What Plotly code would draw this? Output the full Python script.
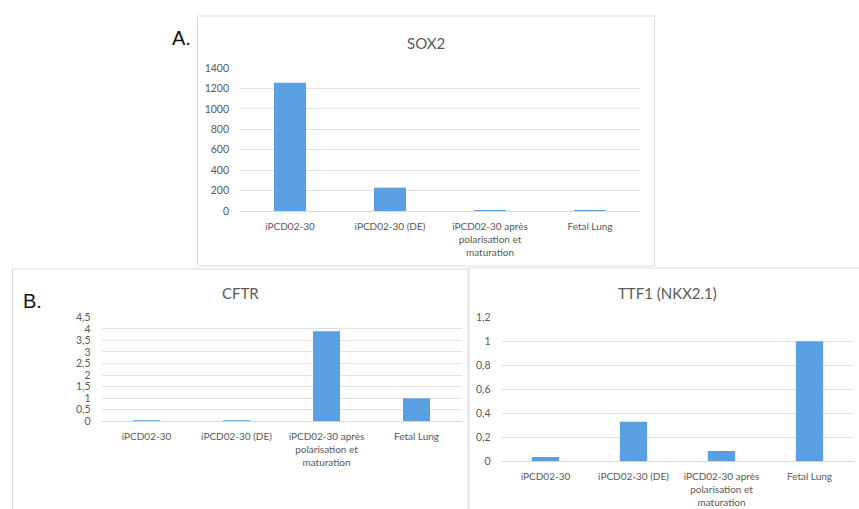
import plotly.graph_objects as go

W, H = 859, 509

categories = ["iPCD02-30", "iPCD02-30 (DE)", "iPCD02-30 après<br>polarisation et<br>maturation", "Fetal Lung"]

sox2_values = [1255, 228, 1.5, 1.0]
cftr_values = [0.012, 0.01, 3.9, 1.0]
ttf1_values = [0.035, 0.33, 0.085, 1.0]

sox2_ticks = [0, 200, 400, 600, 800, 1000, 1200, 1400]
sox2_ticktext = ["0", "200", "400", "600", "800", "1000", "1200", "1400"]
cftr_ticks = [0, 0.5, 1, 1.5, 2, 2.5, 3, 3.5, 4, 4.5]
cftr_ticktext = ["0", "0,5", "1", "1,5", "2", "2,5", "3", "3,5", "4", "4,5"]
ttf1_ticks = [0, 0.2, 0.4, 0.6, 0.8, 1.0, 1.2]
ttf1_ticktext = ["0", "0,2", "0,4", "0,6", "0,8", "1", "1,2"]

BAR = "#5b9fe3"
GRID = "#e3e3e3"
TXT = "#595959"
FONT = "Lato"


def px_x(p):
    return p / W


def px_y(p):
    return 1 - p / H


fig = go.Figure()

panels = [
    (sox2_values, (240, 640), (211, 68), 1400, sox2_ticks, sox2_ticktext, 0.32, 10.5),
    (cftr_values, (101.5, 461.5), (421.3, 317.3), 4.5, cftr_ticks, cftr_ticktext, 0.30, 10.5),
    (ttf1_values, (501.5, 853.5), (461.3, 317.3), 1.2, ttf1_ticks, ttf1_ticktext, 0.31, 10.5),
]

for i, (vals, (xl, xr), (y0, y1), top, tv, tt, bw, yfs) in enumerate(panels):
    sfx = "" if i == 0 else str(i + 1)
    fig.add_trace(go.Bar(x=categories, y=vals, xaxis="x" + sfx, yaxis="y" + sfx,
                         marker=dict(color=BAR, line=dict(width=0)),
                         width=bw, showlegend=False, hoverinfo="x+y"))
    fig.layout["xaxis" + sfx] = dict(
        domain=[px_x(xl), px_x(xr)], anchor="y" + sfx, showgrid=False,
        showline=False, zeroline=False, ticks="", tickangle=0, automargin=False,
        tickfont=dict(family=FONT, size=10, color=TXT), fixedrange=True,
        ticklabelstandoff=8,
    )
    fig.layout["yaxis" + sfx] = dict(
        domain=[px_y(y0), px_y(y1)], anchor="x" + sfx, range=[0, top], automargin=False,
        tickvals=tv, ticktext=tt, showgrid=True, gridcolor=GRID, gridwidth=1,
        zeroline=True, zerolinecolor="#d9d9d9", zerolinewidth=1,
        showline=False, ticks="", tickfont=dict(family=FONT, size=yfs, color=TXT),
        ticklabelstandoff=10, fixedrange=True,
    )

frame = dict(type="rect", xref="paper", yref="paper", line=dict(color="#dcdcdc", width=1),
             fillcolor="rgba(0,0,0,0)", layer="below")
fig.add_shape(**frame, x0=px_x(197.5), x1=px_x(654.5), y0=px_y(266), y1=px_y(16))
fig.add_shape(**frame, x0=px_x(12.5), x1=px_x(468), y0=px_y(520), y1=px_y(269))
fig.add_shape(**frame, x0=px_x(469), x1=px_x(870), y0=px_y(520), y1=px_y(268))

titles = [("SOX2", 426, 43), ("CFTR", 240, 293), ("TTF1 (NKX2.1)", 667, 293)]
for t, x, y in titles:
    fig.add_annotation(text=t, x=px_x(x), y=px_y(y), xref="paper", yref="paper",
                       showarrow=False, xanchor="center", yanchor="middle",
                       font=dict(family=FONT, size=15, color=TXT))

for t, x, y in [("A.", 170, 38), ("B.", 21, 301)]:
    fig.add_annotation(text=t, x=px_x(x), y=px_y(y), xref="paper", yref="paper",
                       showarrow=False, xanchor="left", yanchor="middle",
                       font=dict(family="Liberation Sans", size=20, color="#111111"))

fig.update_layout(width=W, height=H, margin=dict(l=0, r=0, t=0, b=0, autoexpand=False),
                  paper_bgcolor="white", plot_bgcolor="white", bargap=0.68,
                  font=dict(family=FONT, color=TXT))

fig.write_html("out.html", config={"displayModeBar": False},
               post_script="document.body.style.margin='0';document.body.style.overflow='hidden';")
